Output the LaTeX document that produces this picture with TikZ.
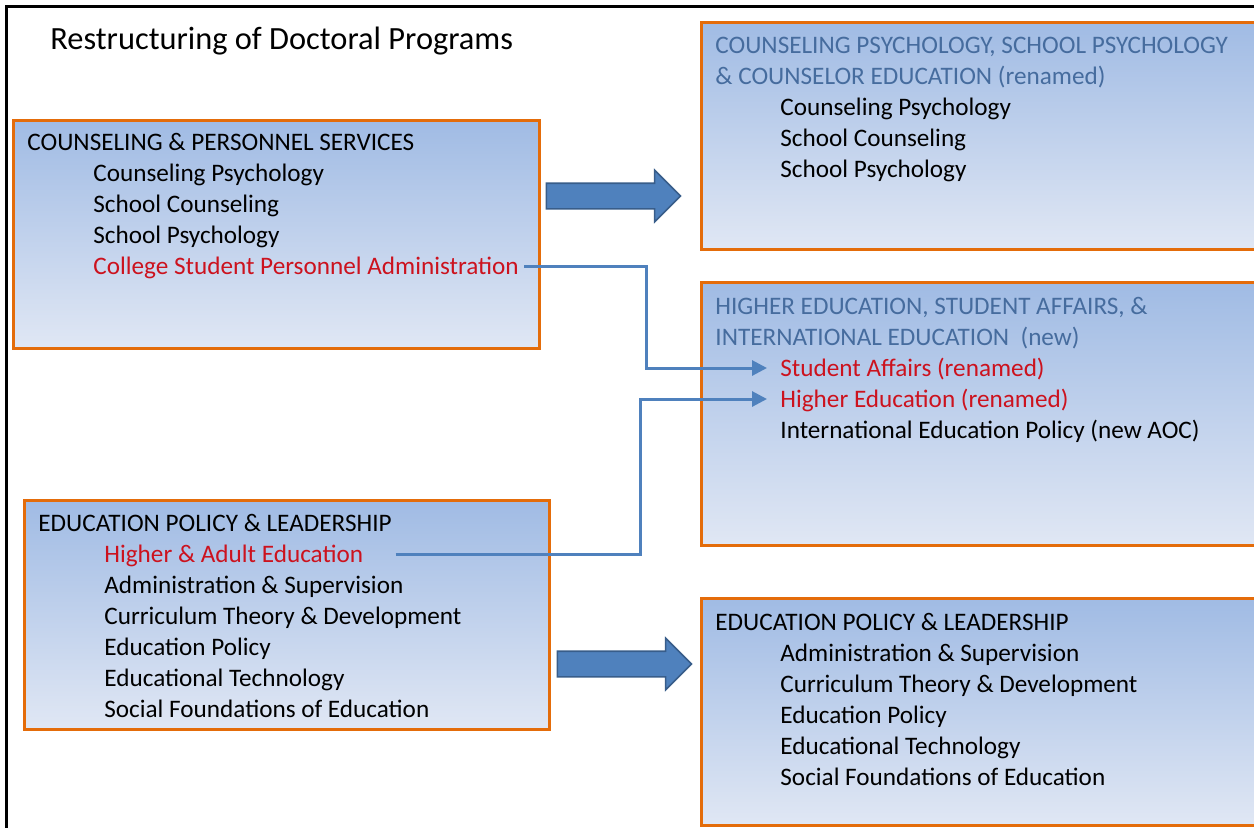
\documentclass[tikz,border=0pt]{standalone}
\usepackage{fontspec}
\setmainfont{Carlito}
\usetikzlibrary{shapes.arrows,arrows.meta}
\definecolor{boxtop}{RGB}{160,187,228}
\definecolor{boxbot}{RGB}{224,231,244}
\definecolor{boxline}{RGB}{228,108,10}
\definecolor{arrowblue}{RGB}{79,129,189}
\definecolor{arrowedge}{RGB}{56,93,138}
\definecolor{titleblue}{RGB}{70,108,158}
\definecolor{movedred}{RGB}{204,18,30}
\begin{document}
\begin{tikzpicture}[x=0.5pt,y=-0.5pt,
    box/.style={draw=boxline, line width=1.5pt, top color=boxtop, bottom color=boxbot},
    entry/.style={anchor=base west, inner xsep=2.5pt, inner ysep=0pt, text height=8pt, text depth=0pt, font=\fontsize{12.6}{15}\selectfont},
    bluetitle/.style={entry, text=titleblue},
    movedentry/.style={entry, text=movedred},
    bigarrow/.style={single arrow, draw=arrowedge, fill=arrowblue, line width=0.8pt, inner sep=0pt, text height=12pt, text depth=0pt, minimum height=67pt, minimum width=25pt, single arrow head extend=6.5pt},
    link/.style={draw=arrowblue, line width=1.5pt, -{Triangle[length=7.5pt,width=7.5pt]}}]
        \useasboundingbox (0,0) rectangle (1254,827);
        \clip (0,0) rectangle (1254,827);
        \fill[white] (0,0) rectangle (1254,827);
        \draw[line width=1.2pt] (6.5,830) -- (6.5,6.5) -- (1260,6.5);
        \node[anchor=base west, inner sep=0pt, font=\fontsize{16.2}{19}\selectfont] (title) at (50,49) {Restructuring of Doctoral Programs};
        \draw[box] (13,120) rectangle (539,348);
        \draw[box] (24,500) rectangle (549,729);
        \draw[box] (701,22) rectangle (1262,249);
        \draw[box] (701,282) rectangle (1262,545);
        \draw[box] (701,598) rectangle (1262,825);
        \node[entry] (cps) at (22,150) {COUNSELING \& PERSONNEL SERVICES};
        \node[entry] (cpscp) at (88,181) {Counseling Psychology};
        \node[entry] (cpssc) at (88,212) {School Counseling};
        \node[entry] (cpssp) at (88,243) {School Psychology};
        \node[movedentry] (cspa) at (88,274) {College Student Personnel Administration};
        \node[entry] (epl) at (33,531) {EDUCATION POLICY \& LEADERSHIP};
        \node[movedentry] (hae) at (99,562) {Higher \& Adult Education};
        \node[entry] (eplas) at (99,593) {Administration \& Supervision};
        \node[entry] (eplct) at (99,624) {Curriculum Theory \& Development};
        \node[entry] (eplep) at (99,655) {Education Policy};
        \node[entry] (eplet) at (99,686) {Educational Technology};
        \node[entry] (eplsf) at (99,717) {Social Foundations of Education};
        \node[bluetitle] (cpsce) at (710,53) {COUNSELING PSYCHOLOGY, SCHOOL PSYCHOLOGY};
        \node[bluetitle] (cpsce2) at (710,84) {\& COUNSELOR EDUCATION (renamed)};
        \node[entry] (cpscecp) at (775,115) {Counseling Psychology};
        \node[entry] (cpscesc) at (775,146) {School Counseling};
        \node[entry] (cpscesp) at (775,177) {School Psychology};
        \node[bluetitle] (hesa) at (710,314) {HIGHER EDUCATION, STUDENT AFFAIRS, \&};
        \node[bluetitle] (hesa2) at (710,345) {INTERNATIONAL EDUCATION\ \ (new)};
        \node[movedentry] (stuaff) at (775,376) {Student Affairs (renamed)};
        \node[movedentry] (highed) at (775,407) {Higher Education (renamed)};
        \node[entry] (intep) at (775,438) {International Education Policy (new AOC)};
        \node[entry] (eplnew) at (710,630) {EDUCATION POLICY \& LEADERSHIP};
        \node[entry] (newas) at (775,661) {Administration \& Supervision};
        \node[entry] (newct) at (775,692) {Curriculum Theory \& Development};
        \node[entry] (newep) at (775,723) {Education Policy};
        \node[entry] (newet) at (775,754) {Educational Technology};
        \node[entry] (newsf) at (775,785) {Social Foundations of Education};
        \node[bigarrow] (renamearrow) at (607,196) {};
        \node[bigarrow] (keeparrow) at (618,664) {};
        \coordinate (bend1) at (646,300);
        \coordinate (bend2) at (640,470);
        \draw[link, shorten >=4pt] (cspa.east) -| (bend1) |- (stuaff.west);
        \draw[link, shorten <=13.5pt, shorten >=4pt] (hae.east) -| (bend2) |- (highed.west);
    \end{tikzpicture}
\end{document}
